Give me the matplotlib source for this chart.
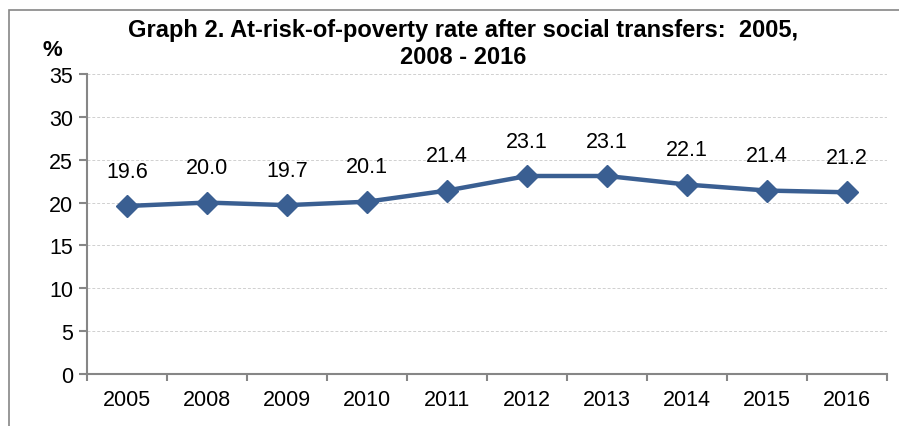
import matplotlib
matplotlib.use('Agg')
import matplotlib.pyplot as plt
from matplotlib.patches import Rectangle

plt.rcParams['font.family'] = ['Liberation Sans', 'DejaVu Sans']

years = ['2005', '2008', '2009', '2010', '2011', '2012', '2013', '2014', '2015', '2016']
rate = [19.6, 20.0, 19.7, 20.1, 21.4, 23.1, 23.1, 22.1, 21.4, 21.2]
yticks = [0, 5, 10, 15, 20, 25, 30, 35]

line_col = '#3A5F92'
axis_col = '#868686'

fig = plt.figure(figsize=(8.99, 4.27), dpi=100)
ax = fig.add_axes([87 / 899, 1 - 375 / 427, 800 / 899, 300 / 427])

x = list(range(len(years)))
ax.plot(x, rate, color=line_col, lw=3.2, marker='D', markersize=11.5,
        markerfacecolor=line_col, markeredgecolor=line_col, zorder=3)

for xi, v in zip(x, rate):
    ax.annotate('%.1f' % v, (xi, v), textcoords='offset points', xytext=(0, 25),
                ha='center', va='center', fontsize=15.5)

ax.set_xlim(-0.5, len(years) - 0.5)
ax.set_ylim(0, 35)
ax.set_yticks(yticks)
ax.set_xticks(x)
ax.set_xticklabels(years)
ax.set_xticks([i - 0.5 for i in range(len(years) + 1)], minor=True)
ax.tick_params(axis='x', which='major', length=0, labelsize=15.5, pad=11)
ax.tick_params(axis='x', which='minor', length=5, width=1.5, color=axis_col, direction='out')
ax.tick_params(axis='y', length=6, width=1.5, color=axis_col, labelsize=15.5, pad=4)

ax.grid(axis='y', color='#d0d0d0', linestyle=(0, (3, 2)), linewidth=0.7)
ax.set_axisbelow(True)
for s in ['top', 'right']:
    ax.spines[s].set_visible(False)
for s in ['left', 'bottom']:
    ax.spines[s].set_color(axis_col)
    ax.spines[s].set_linewidth(1.5)

fig.text(463 / 899, 1 - 30 / 427, 'Graph 2. At-risk-of-poverty rate after social transfers:  2005,',
         ha='center', va='center', fontsize=17, fontweight='bold')
fig.text(463 / 899, 1 - 57 / 427, '2008 - 2016',
         ha='center', va='center', fontsize=17, fontweight='bold')
fig.text(52 / 899, 1 - 50 / 427, '%', ha='center', va='center', fontsize=16, fontweight='bold')

fig.patches.append(Rectangle((9 / 899, -0.1), 1.2, 1.1 - 11 / 427, transform=fig.transFigure,
                             fill=False, edgecolor=axis_col, linewidth=1.2))

fig.savefig('out.png', dpi=100)
